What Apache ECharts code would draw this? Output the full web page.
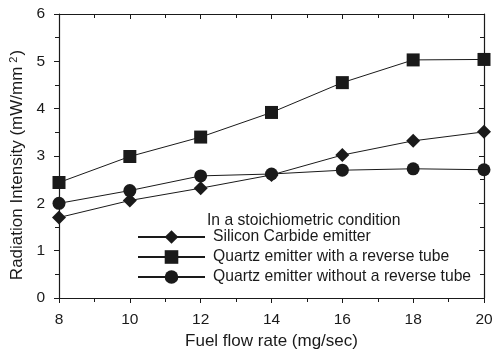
<!DOCTYPE html>
<html>
<head>
<meta charset="utf-8">
<script src="https://cdn.jsdelivr.net/npm/echarts@6/dist/echarts.min.js"></script>
<style>
  html, body { margin: 0; padding: 0; background: #fff; }
  #chart { width: 496px; height: 350px; }
</style>
</head>
<body>
<div id="chart"></div>
<script>
// Fuel flow rate (mg/sec)
const fuelFlow = [8, 10, 12, 14, 16, 18, 20];
// Radiation intensity (mW/mm^2) per emitter
const siliconCarbide = [1.70, 2.06, 2.32, 2.60, 3.02, 3.32, 3.51];
const quartzWithTube = [2.44, 2.99, 3.40, 3.92, 4.55, 5.03, 5.04];
const quartzNoTube = [2.00, 2.27, 2.58, 2.62, 2.70, 2.73, 2.71];

const seriesNames = [
  'Silicon Carbide emitter',
  'Quartz emitter with a reverse tube',
  'Quartz emitter without a reverse tube'
];

const FONT = '"Liberation Sans", Arial, sans-serif';
const INK = '#1a1a1a';

function pairs(vals) {
  return fuelFlow.map((x, i) => [x, vals[i]]);
}

function lineSeries(name, vals, symbol, size) {
  return {
    name: name,
    type: 'line',
    data: pairs(vals),
    symbol: symbol,
    symbolSize: size,
    lineStyle: { color: INK, width: 1 },
    itemStyle: { color: INK },
    emphasis: { disabled: true },
    animation: false
  };
}

const chart = echarts.init(document.getElementById('chart'), null, { renderer: 'canvas' });

const mainAxisCommon = {
  axisLine: { show: true, onZero: false, lineStyle: { color: INK, width: 1.2 } },
  axisTick: { show: true, inside: false, length: 5, lineStyle: { color: INK, width: 1 } },
  minorTick: { show: true, splitNumber: 2, length: 4, lineStyle: { color: INK, width: 1 } },
  splitLine: { show: false },
  axisLabel: { color: INK, fontFamily: FONT, fontSize: 15.5, margin: 14 }
};

const mirrorAxisCommon = {
  axisLine: { show: true, onZero: false, lineStyle: { color: INK, width: 1.2 } },
  axisTick: { show: true, inside: true, length: 5, lineStyle: { color: INK, width: 1 } },
  minorTick: { show: true, splitNumber: 2, length: 4, lineStyle: { color: INK, width: 1 } },
  splitLine: { show: false },
  axisLabel: { show: false }
};

chart.setOption({
  backgroundColor: '#fff',
  animation: false,
  title: {
    text: 'In a stoichiometric condition',
    left: 207,
    top: 213,
    textStyle: { color: INK, fontFamily: FONT, fontSize: 15.7, fontWeight: 'normal' },
    padding: 0
  },
  legend: {
    data: seriesNames,
    orient: 'vertical',
    left: 137,
    top: 229,
    itemWidth: 67,
    itemHeight: 17,
    itemGap: 4,
    padding: 0,
    selectedMode: false,
    textStyle: { color: INK, fontFamily: FONT, fontSize: 15.7, padding: [0, 0, 0, 3] }
  },
  grid: { left: 59, right: 12, top: 14, bottom: 52, outerBoundsMode: 'none', containLabel: false },
  xAxis: [
    Object.assign({}, mainAxisCommon, {
      type: 'value', min: 8, max: 20, interval: 2, position: 'bottom',
      name: 'Fuel flow rate (mg/sec)',
      nameLocation: 'middle',
      nameGap: 32,
      nameTextStyle: { color: INK, fontFamily: FONT, fontSize: 17 }
    }),
    Object.assign({}, mirrorAxisCommon, {
      type: 'value', min: 8, max: 20, interval: 2, position: 'top'
    })
  ],
  yAxis: [
    Object.assign({}, mainAxisCommon, {
      type: 'value', min: 0, max: 6, interval: 1, position: 'left',
      name: 'Radiation Intensity (mW/mm{sup|2})',
      nameLocation: 'middle',
      nameGap: 33,
      nameTextStyle: {
        color: INK, fontFamily: FONT, fontSize: 17,
        padding: [0, 18, 0, 0],
        rich: {
          sup: { fontSize: 11, verticalAlign: 'top', padding: [0, 1, 7, 4], color: INK, fontFamily: FONT }
        }
      }
    }),
    Object.assign({}, mirrorAxisCommon, {
      type: 'value', min: 0, max: 6, interval: 1, position: 'right'
    })
  ],
  series: [
    lineSeries(seriesNames[0], siliconCarbide, 'diamond', 14),
    lineSeries(seriesNames[1], quartzWithTube, 'rect', 13),
    lineSeries(seriesNames[2], quartzNoTube, 'circle', 13)
  ]
});
</script>
</body>
</html>
